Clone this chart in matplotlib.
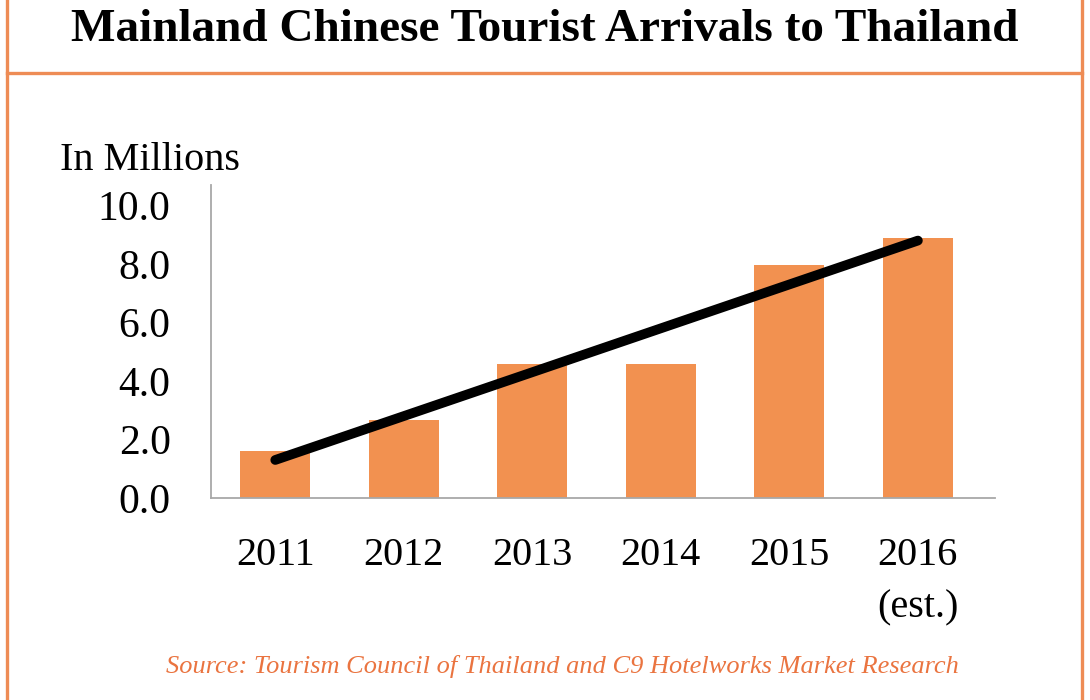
import matplotlib.pyplot as plt
from matplotlib.lines import Line2D
import numpy as np

# Дані (млн туристів)
years = ['2011', '2012', '2013', '2014', '2015', '2016\n(est.)']
arrivals = [1.6, 2.65, 4.57, 4.57, 7.97, 8.9]
trend_x = [0, 5]
trend_y = [1.3, 8.8]
y_ticks = [0, 2, 4, 6, 8, 10]

orange = '#F29150'
frame_col = '#EE8C55'
serif = 'Liberation Serif'

fig = plt.figure(figsize=(10.9, 7.0), dpi=100)
fig.patch.set_facecolor('white')

# Рамка
fig.add_artist(Line2D([7 / 1090, 7 / 1090], [0, 1], color=frame_col, lw=2.4))
fig.add_artist(Line2D([1082 / 1090, 1082 / 1090], [0, 1], color=frame_col, lw=2.4))
fig.add_artist(Line2D([7 / 1090, 1082 / 1090], [1 - 73 / 700, 1 - 73 / 700], color=frame_col, lw=2.4))

fig.text(0.5, 1 - 30 / 700, 'Mainland Chinese Tourist Arrivals to Thailand',
         ha='center', va='center', fontsize=34, fontweight='bold', family=serif)

ax = fig.add_axes([211 / 1090, 1 - 498 / 700, 784 / 1090, 313 / 700])
x = np.arange(len(years))
ax.bar(x, arrivals, width=0.545, color=orange, zorder=2)
ax.plot(trend_x, trend_y, color='black', lw=7, solid_capstyle='round', zorder=3)

ax.set_xlim(-0.5, 5.6)
ax.set_ylim(0, 10.7)
ax.set_yticks(y_ticks)
ax.set_yticklabels([f'{v:.1f}' for v in y_ticks], family=serif, fontsize=30)
ax.set_xticks(x)
ax.set_xticklabels(years, family=serif, fontsize=29, linespacing=1.55, va='top')
ax.tick_params(axis='both', length=0)
ax.tick_params(axis='y', pad=29)
ax.tick_params(axis='x', pad=28)
for lab in ax.get_yticklabels():
    lab.set_va('center_baseline')
for s in ['top', 'right']:
    ax.spines[s].set_visible(False)
for s in ['left', 'bottom']:
    ax.spines[s].set_color('#A8A8A8')
    ax.spines[s].set_linewidth(1.3)

fig.text(60 / 1090, 1 - 160 / 700, 'In Millions', ha='left', va='center',
         fontsize=29, family=serif)

fig.text(562 / 1090, 1 - 667 / 700,
         'Source: Tourism Council of Thailand and C9 Hotelworks Market Research',
         ha='center', va='center', fontsize=19, style='italic', color='#EA7440', family=serif)

fig.savefig('out.png', dpi=100)
